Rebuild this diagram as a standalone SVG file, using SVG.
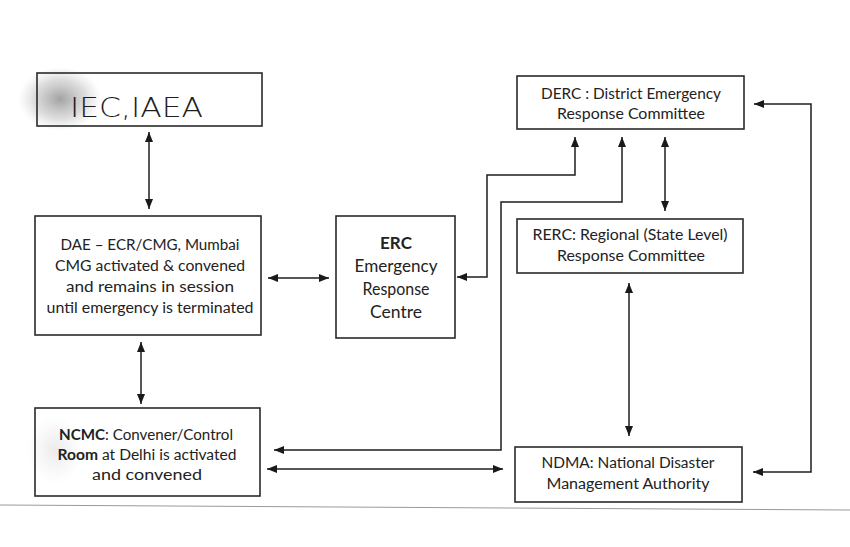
<svg xmlns="http://www.w3.org/2000/svg" width="850" height="547" viewBox="0 0 850 547">
<defs>
<marker id="ah" viewBox="0 0 10 8" refX="10" refY="4" markerWidth="10" markerHeight="8" markerUnits="userSpaceOnUse" orient="auto-start-reverse">
<path d="M0,0 L10,4 L0,8 z" fill="#1a1a1a"/>
</marker>
<radialGradient id="smudge" cx="0.5" cy="0.5" r="0.5">
<stop offset="0" stop-color="#7a7a7a" stop-opacity="0.7"/>
<stop offset="0.6" stop-color="#9a9a9a" stop-opacity="0.35"/>
<stop offset="1" stop-color="#bbbbbb" stop-opacity="0"/>
</radialGradient>
<radialGradient id="smudge2" cx="0.5" cy="0.5" r="0.5">
<stop offset="0" stop-color="#bbbbbb" stop-opacity="0.3"/>
<stop offset="1" stop-color="#cccccc" stop-opacity="0"/>
</radialGradient>
</defs>
<style>
.box{fill:#fff;stroke:#2a2a2a;stroke-width:1.6}
.frame{fill:none;stroke:#2a2a2a;stroke-width:1.6}
.t{font-family:Lato,"Open Sans","Liberation Sans",sans-serif;font-size:15.5px;fill:#222;text-anchor:middle}
.big{font-size:17px}
.b{font-weight:bold}
.hand{font-family:"DejaVu Sans","Liberation Sans",sans-serif;font-size:27px;fill:#1e1e1e;font-weight:200}
.c{fill:none;stroke:#1e1e1e;stroke-width:1.5;marker-start:url(#ah);marker-end:url(#ah)}
</style>
<rect width="850" height="547" fill="#fff"/>
<line x1="0" y1="505" x2="850" y2="510" stroke="#9a9a9a" stroke-width="1.2"/>

<g id="iec">
<ellipse cx="60" cy="99" rx="42" ry="32" fill="url(#smudge)"/>
<rect class="frame" x="37" y="73" width="225" height="53"/>
<text class="hand" x="70" y="117" textLength="133" lengthAdjust="spacingAndGlyphs">IEC,IAEA</text>
</g>

<g id="derc">
<rect class="box" x="517" y="76" width="227" height="53"/>
<text class="t" x="631" y="99" textLength="180" lengthAdjust="spacingAndGlyphs">DERC : District Emergency</text>
<text class="t" x="631" y="119" textLength="148" lengthAdjust="spacingAndGlyphs">Response Committee</text>
</g>

<g id="dae">
<rect class="box" x="35" y="216" width="226" height="119"/>
<text class="t" x="150" y="250" textLength="179" lengthAdjust="spacingAndGlyphs">DAE – ECR/CMG, Mumbai</text>
<text class="t" x="150" y="271" textLength="190" lengthAdjust="spacingAndGlyphs">CMG activated &amp; convened</text>
<text class="t" x="150" y="292" textLength="168" lengthAdjust="spacingAndGlyphs">and remains in session</text>
<text class="t" x="150" y="313" textLength="207" lengthAdjust="spacingAndGlyphs">until emergency is terminated</text>
</g>

<g id="erc">
<rect class="box" x="336" y="216" width="119" height="122"/>
<text class="t big b" x="396" y="249">ERC</text>
<text class="t big" x="396" y="272" textLength="83" lengthAdjust="spacingAndGlyphs">Emergency</text>
<text class="t big" x="396" y="295" textLength="67" lengthAdjust="spacingAndGlyphs">Response</text>
<text class="t big" x="396" y="318" textLength="52" lengthAdjust="spacingAndGlyphs">Centre</text>
</g>

<g id="rerc">
<rect class="box" x="517" y="219" width="226" height="54"/>
<text class="t" x="630" y="240" textLength="195" lengthAdjust="spacingAndGlyphs">RERC: Regional (State Level)</text>
<text class="t" x="631" y="261" textLength="148" lengthAdjust="spacingAndGlyphs">Response Committee</text>
</g>

<g id="ncmc">
<ellipse cx="55" cy="450" rx="28" ry="34" fill="url(#smudge2)"/>
<rect class="frame" x="35" y="408" width="225" height="88"/>
<text class="t" x="146" y="440" textLength="174" lengthAdjust="spacingAndGlyphs"><tspan class="b">NCMC</tspan>: Convener/Control</text>
<text class="t" x="147" y="460" textLength="179" lengthAdjust="spacingAndGlyphs"><tspan class="b">Room</tspan> at Delhi is activated</text>
<text class="t" x="147" y="480" textLength="110" lengthAdjust="spacingAndGlyphs">and convened</text>
</g>

<g id="ndma">
<rect class="box" x="515" y="447" width="227" height="55"/>
<text class="t" x="628" y="468" textLength="173" lengthAdjust="spacingAndGlyphs">NDMA: National Disaster</text>
<text class="t" x="628" y="489" textLength="163" lengthAdjust="spacingAndGlyphs">Management Authority</text>
</g>

<g id="connectors">
<path class="c" d="M149,132 V209"/>
<path class="c" d="M141,342 V404"/>
<path class="c" d="M268,278 H329"/>
<path class="c" d="M457,277 H487 V175 H575 V137"/>
<path class="c" d="M274,450 H501 V202 H622 V137"/>
<path class="c" d="M267,469 H503"/>
<path class="c" d="M665,137 V211"/>
<path class="c" d="M629,283 V436"/>
<path class="c" d="M754,104 H811 V472 H753"/>
</g>
</svg>
